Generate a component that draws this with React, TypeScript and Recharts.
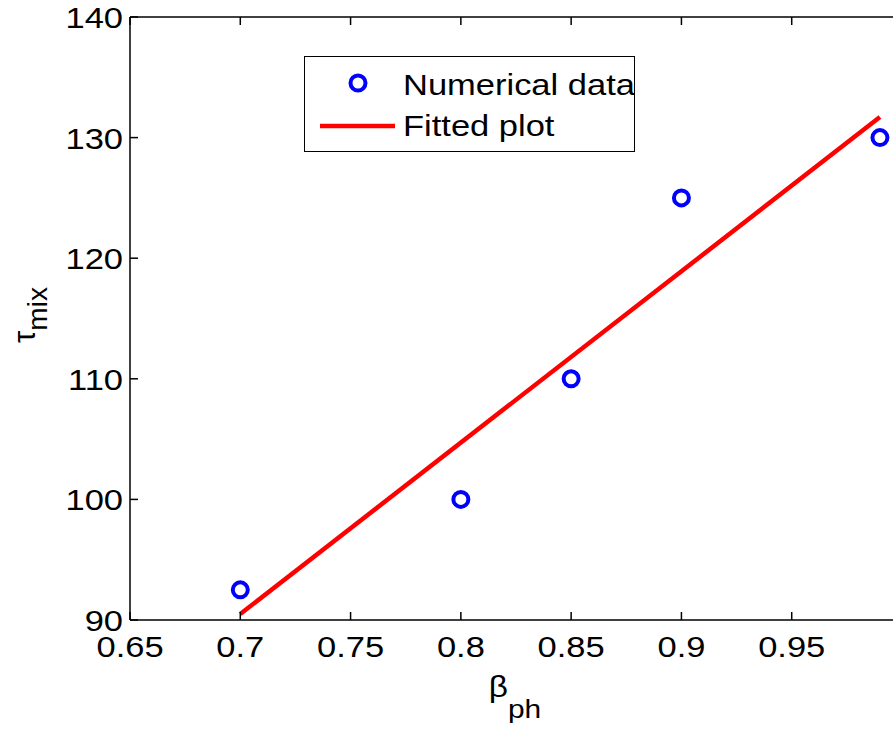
import { ComposedChart, Scatter, Line, XAxis, YAxis, Legend } from 'recharts'

const betaPh = [0.7, 0.8, 0.85, 0.9, 0.99]
const tauMix = [92.5, 100, 110, 125, 130]
const fitBeta = [0.7, 0.99]
const fitTau = [90.5, 131.7]
const xTicks = [0.65, 0.7, 0.75, 0.8, 0.85, 0.9, 0.95]
const yTicks = [90, 100, 110, 120, 130, 140]

const points = betaPh.map((x, i) => ({ x, y: tauMix[i] }))
const fitted = fitBeta.map((x, i) => ({ x, y: fitTau[i] }))

const FONT = 'Liberation Sans, Arial, Helvetica, sans-serif'
const STRETCH = 1.15

function BottomTick({ x, y, payload }: any) {
  return (
    <g>
      <line x1={x} y1={y} x2={x} y2={y - 8} stroke="#000" strokeWidth={1.5} />
      <text
        transform={`translate(${x},${y + 37}) scale(${STRETCH},1)`}
        textAnchor="middle"
        fontSize={30}
        fontFamily={FONT}
        fill="#000"
      >
        {payload.value}
      </text>
    </g>
  )
}

function TopTick({ x, y }: any) {
  return <line x1={x} y1={y} x2={x} y2={y + 8} stroke="#000" strokeWidth={1.5} />
}

function LeftTick({ x, y, payload }: any) {
  return (
    <g>
      <line x1={x} y1={y} x2={x + 8} y2={y} stroke="#000" strokeWidth={1.5} />
      <text
        transform={`translate(${x - 7},${y + 11}) scale(${STRETCH},1)`}
        textAnchor="end"
        fontSize={30}
        fontFamily={FONT}
        fill="#000"
      >
        {payload.value}
      </text>
    </g>
  )
}

function RightTick({ x, y }: any) {
  return <line x1={x} y1={y} x2={x - 8} y2={y} stroke="#000" strokeWidth={1.5} />
}

function Ring({ cx, cy }: any) {
  return <circle cx={cx} cy={cy} r={7.5} fill="none" stroke="#0000FF" strokeWidth={4} />
}

function LegendBox() {
  return (
    <div style={{ width: 331, height: 96, border: '1.5px solid #000', boxSizing: 'border-box', background: '#fff' }}>
      <svg width={331} height={96} style={{ position: 'absolute', left: 0, top: 0 }}>
        <circle cx={54} cy={27} r={7.5} fill="none" stroke="#0000FF" strokeWidth={4} />
        <text transform={`translate(99,39) scale(${STRETCH},1)`} fontSize={30} fontFamily={FONT} fill="#000">
          Numerical data
        </text>
        <line x1={16} y1={70} x2={91} y2={70} stroke="#FF0000" strokeWidth={4.5} />
        <text transform={`translate(99,80) scale(${STRETCH},1)`} fontSize={30} fontFamily={FONT} fill="#000">
          Fitted plot
        </text>
      </svg>
    </div>
  )
}

function YLabel() {
  return (
    <text transform="translate(35,315) rotate(-90)" textAnchor="middle" fontFamily={FONT} fill="#000">
      <tspan fontSize={31}>τ</tspan>
      <tspan fontSize={28} dy={12}>mix</tspan>
    </text>
  )
}

function XLabel() {
  return (
    <text transform={`translate(515,697) scale(${STRETCH},1)`} textAnchor="middle" fontFamily={FONT} fill="#000">
      <tspan fontSize={29}>β</tspan>
      <tspan fontSize={26} dy={21}>ph</tspan>
    </text>
  )
}

export default function App() {
  return (
    <div style={{ position: 'absolute', left: 0, top: 0, width: 893, height: 731, overflow: 'hidden', background: '#fff' }}>
      <ComposedChart width={910} height={731} margin={{ top: 7, right: 0, bottom: 51, left: 70 }}>
        <XAxis
          dataKey="x"
          type="number"
          domain={[0.65, 1]}
          ticks={xTicks}
          interval={0}
          allowDataOverflow
          height={60}
          tickSize={0}
          tickMargin={0}
          tickLine={false}
          tick={BottomTick}
          axisLine={{ stroke: '#000', strokeWidth: 1.5 }}
        />
        <XAxis
          xAxisId="top"
          orientation="top"
          dataKey="x"
          type="number"
          domain={[0.65, 1]}
          ticks={xTicks}
          interval={0}
          allowDataOverflow
          height={10}
          tickSize={0}
          tickMargin={0}
          tickLine={false}
          tick={TopTick}
          axisLine={{ stroke: '#000', strokeWidth: 1.5 }}
        />
        <YAxis
          dataKey="y"
          type="number"
          domain={[90, 140]}
          ticks={yTicks}
          interval={0}
          allowDataOverflow
          width={60}
          tickSize={0}
          tickMargin={0}
          tickLine={false}
          tick={LeftTick}
          axisLine={{ stroke: '#000', strokeWidth: 1.5 }}
        />
        <YAxis
          yAxisId="right"
          orientation="right"
          type="number"
          domain={[90, 140]}
          ticks={yTicks}
          interval={0}
          allowDataOverflow
          width={8}
          tickSize={0}
          tickMargin={0}
          tickLine={false}
          tick={RightTick}
          axisLine={{ stroke: '#000', strokeWidth: 1.5 }}
        />
        <Scatter data={points} dataKey="y" shape={Ring} isAnimationActive={false} />
        <Line
          data={fitted}
          dataKey="y"
          type="linear"
          stroke="#FF0000"
          strokeWidth={4.5}
          dot={false}
          activeDot={false}
          isAnimationActive={false}
        />
        <Legend
          layout="horizontal"
          align="center"
          verticalAlign="middle"
          content={LegendBox}
          wrapperStyle={{ position: 'absolute', left: 304, top: 56, width: 331, height: 96 }}
        />
        <YLabel />
        <XLabel />
      </ComposedChart>
    </div>
  )
}
